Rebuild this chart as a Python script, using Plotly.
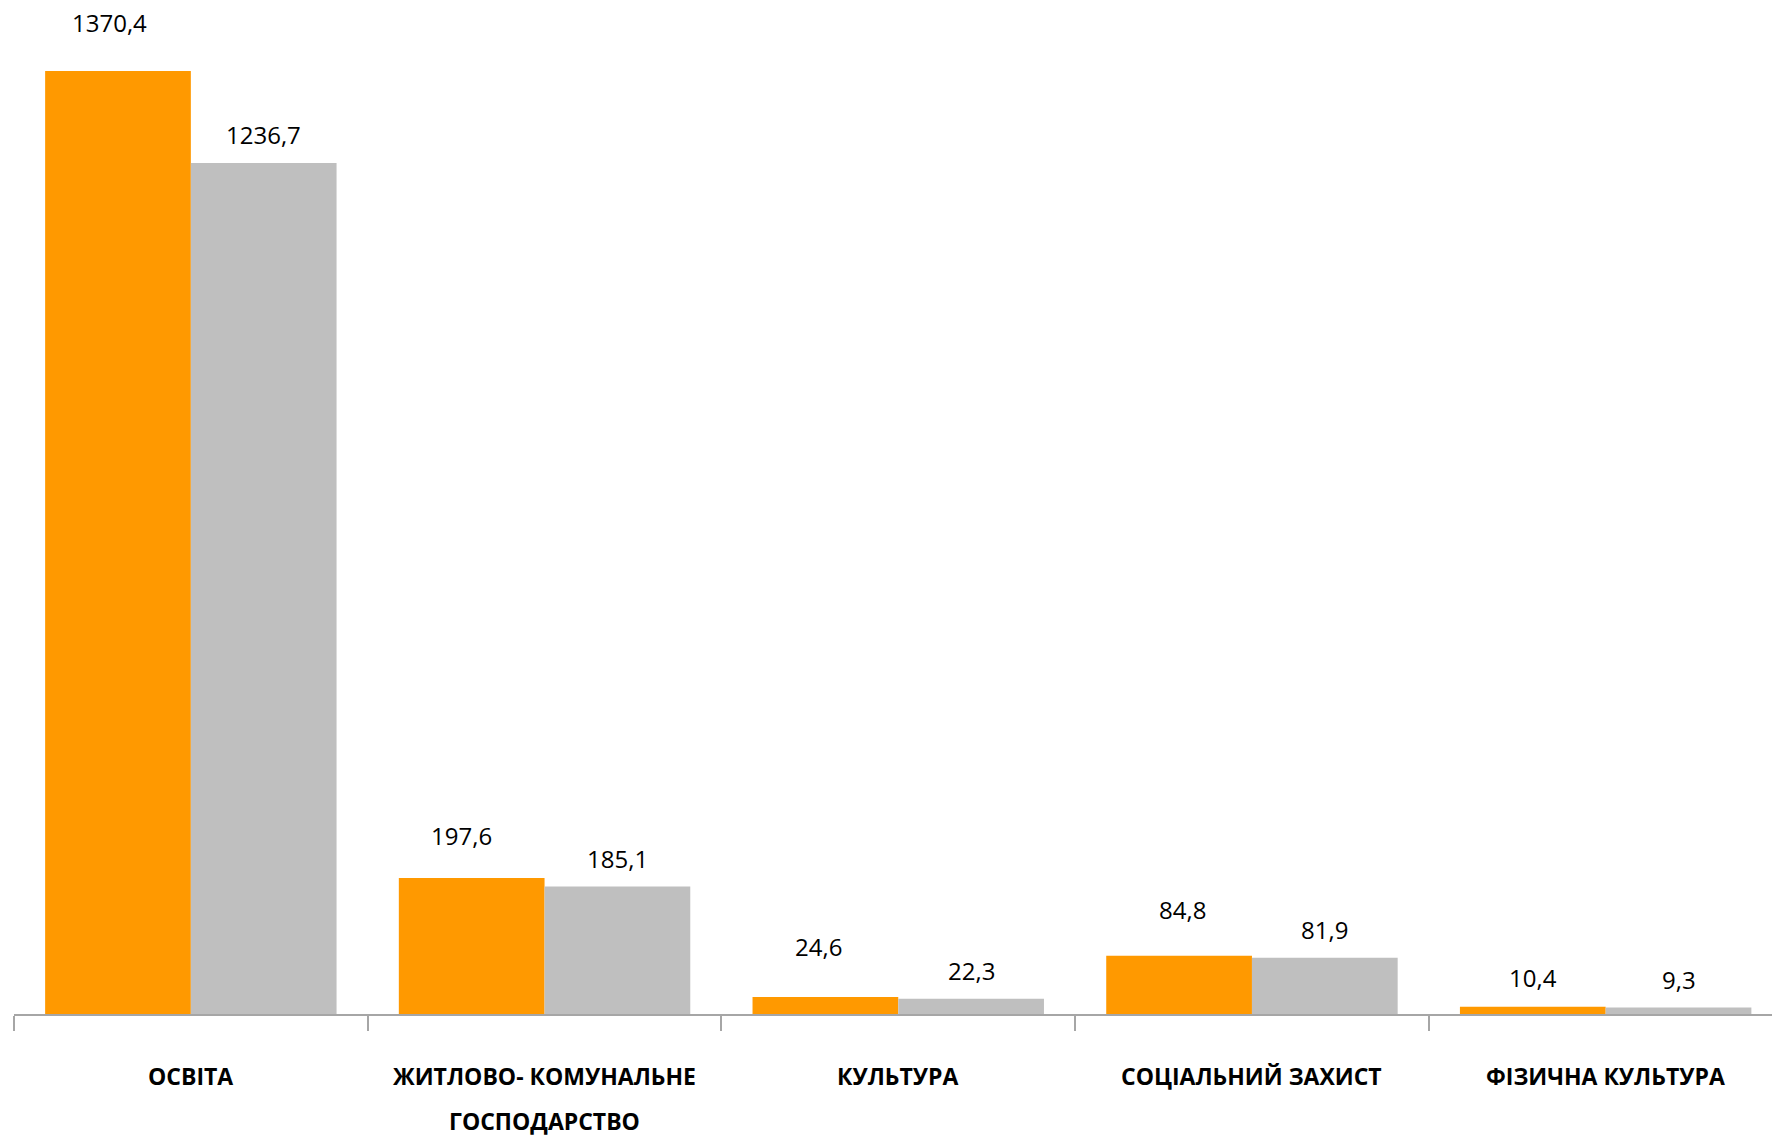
import plotly.graph_objects as go

categories = ["ОСВІТА", "ЖИТЛОВО- КОМУНАЛЬНЕ", "КУЛЬТУРА", "СОЦІАЛЬНИЙ ЗАХИСТ", "ФІЗИЧНА КУЛЬТУРА"]
category_second_line = ["", "ГОСПОДАРСТВО", "", "", ""]
series_a = [1370.4, 197.6, 24.6, 84.8, 10.4]
series_b = [1236.7, 185.1, 22.3, 81.9, 9.3]
label_a = ["1370,4", "197,6", "24,6", "84,8", "10,4"]
label_b = ["1236,7", "185,1", "22,3", "81,9", "9,3"]

# style constants
ORANGE = "#FF9900"
GREY = "#BFBFBF"
BAR_W = 0.412
LABEL_SHIFT_A = [48, 43, 51, 46, 29]
LABEL_SHIFT_B = [28, 28, 28, 28, 28]
LABEL_XSHIFT_A = [-8, -10, -7, 3, 0]
FONT = "Open Sans"

xs = list(range(len(categories)))

fig = go.Figure()
fig.add_trace(go.Bar(x=[x - BAR_W / 2 for x in xs], y=series_a, width=BAR_W,
                     marker=dict(color=ORANGE, line=dict(width=0)), showlegend=False))
fig.add_trace(go.Bar(x=[x + BAR_W / 2 for x in xs], y=series_b, width=BAR_W,
                     marker=dict(color=GREY, line=dict(width=0)), showlegend=False))

annotations = []
for i, x in enumerate(xs):
    annotations.append(dict(x=x - BAR_W / 2, y=series_a[i], xref="x", yref="y", text=label_a[i],
                            showarrow=False, yanchor="middle", yshift=LABEL_SHIFT_A[i],
                            xshift=LABEL_XSHIFT_A[i],
                            font=dict(family=FONT, size=24, color="#000000")))
    annotations.append(dict(x=x + BAR_W / 2, y=series_b[i], xref="x", yref="y", text=label_b[i],
                            showarrow=False, yanchor="middle", yshift=LABEL_SHIFT_B[i],
                            font=dict(family=FONT, size=24, color="#000000")))
    annotations.append(dict(x=x, y=0, xref="x", yref="paper", text="<b>" + categories[i] + "</b>",
                            showarrow=False, yanchor="middle", yshift=-62,
                            font=dict(family=FONT, size=23, color="#000000")))
    if category_second_line[i]:
        annotations.append(dict(x=x, y=0, xref="x", yref="paper", text="<b>" + category_second_line[i] + "</b>",
                                showarrow=False, yanchor="middle", yshift=-107, borderpad=0,
                                font=dict(family=FONT, size=23, color="#000000")))

px_per_cat = 353.7
plot_w = 1772 - 14
x_max = -0.5 + plot_w / px_per_cat

fig.update_layout(
    width=1772, height=1139,
    margin=dict(l=14, r=0, t=14, b=125),
    paper_bgcolor="white", plot_bgcolor="white",
    barmode="overlay",
    annotations=annotations,
    xaxis=dict(range=[-0.5, x_max], tickvals=[i - 0.5 for i in range(len(categories) + 1)],
               ticktext=[""] * (len(categories) + 1), ticks="outside", ticklen=15, tickwidth=2,
               tickcolor="#A6A6A6", showline=True, linecolor="#A6A6A6", linewidth=2,
               showgrid=False, zeroline=False, fixedrange=True),
    yaxis=dict(range=[0, 1000 / 0.6882], visible=False, showgrid=False, zeroline=False),
)

fig.write_html("out.html", config={"displayModeBar": False},
               post_script="document.body.style.margin='0';document.body.style.overflow='hidden';")
